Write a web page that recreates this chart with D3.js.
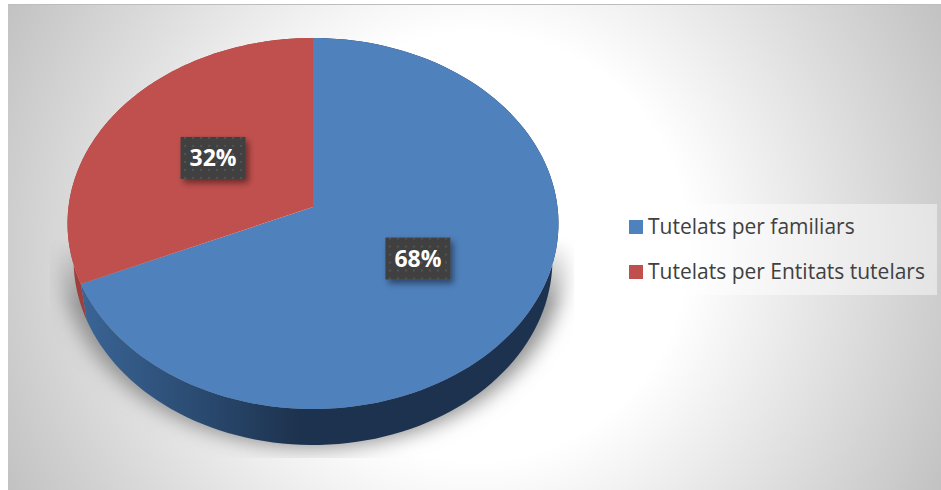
<!DOCTYPE html>
<html>
<head>
<meta charset="utf-8">
<script src="https://cdn.jsdelivr.net/npm/d3@7"></script>
<style>
  html, body { margin: 0; padding: 0; background: #fff; overflow: hidden; }
  svg { display: block; }
</style>
</head>
<body>
<svg id="chart" width="941" height="490"></svg>
<script>
// values (labels round them to 68% / 32%)
const categories = ["Tutelats per familiars", "Tutelats per Entitats tutelars"];
const shares = [68.4, 31.6];
const topColors = ["#4f81bd", "#c0504d"];

const svg = d3.select("#chart");
const width = 941, height = 490;
const defs = svg.append("defs");

// panel background: white in the middle, grey corners
const bg = defs.append("radialGradient").attr("id", "panelBg")
  .attr("gradientUnits", "userSpaceOnUse")
  .attr("cx", 474).attr("cy", 247).attr("r", 535);
bg.append("stop").attr("offset", 0.4).attr("stop-color", "#ffffff");
bg.append("stop").attr("offset", 1).attr("stop-color", "#c0c0c0");

// side wall of the blue slice, dark towards the front
const wallBlue = defs.append("linearGradient").attr("id", "wallBlue")
  .attr("gradientUnits", "userSpaceOnUse")
  .attr("x1", 80).attr("x2", 300).attr("y1", 0).attr("y2", 0);
wallBlue.append("stop").attr("offset", 0).attr("stop-color", "#3a6596");
wallBlue.append("stop").attr("offset", 0.55).attr("stop-color", "#2a4a70");
wallBlue.append("stop").attr("offset", 1).attr("stop-color", "#1d324e");

defs.append("filter").attr("id", "pieShadow")
  .attr("x", "-20%").attr("y", "-20%").attr("width", "140%").attr("height", "140%")
  .append("feGaussianBlur").attr("stdDeviation", 10);

const labelShadow = defs.append("filter").attr("id", "labelShadow")
  .attr("x", "-30%").attr("y", "-30%").attr("width", "160%").attr("height", "170%");
labelShadow.append("feDropShadow")
  .attr("dx", 3).attr("dy", 4).attr("stdDeviation", 3)
  .attr("flood-color", "#000").attr("flood-opacity", 0.45);

const dots = defs.append("pattern").attr("id", "labelDots")
  .attr("patternUnits", "userSpaceOnUse").attr("width", 8).attr("height", 8);
dots.append("rect").attr("width", 8).attr("height", 8).attr("fill", "#404040");
dots.append("circle").attr("cx", 4).attr("cy", 4).attr("r", 1.2).attr("fill", "#525252");

const fade = defs.append("linearGradient").attr("id", "shadowFade")
  .attr("x1", 0).attr("x2", 0).attr("y1", 0).attr("y2", 1);
fade.append("stop").attr("offset", 0).attr("stop-color", "#000");
fade.append("stop").attr("offset", 0.3).attr("stop-color", "#fff");
defs.append("mask").attr("id", "shadowMask")
  .attr("maskUnits", "userSpaceOnUse")
  .attr("x", 50).attr("y", 238).attr("width", 524).attr("height", 220)
  .append("rect").attr("x", 50).attr("y", 238).attr("width", 524).attr("height", 220)
  .attr("fill", "url(#shadowFade)");

// perspective projection of the pie disc onto the page
const apex = {x: 313, y: 207};
const rimTop = 38, rimBottom = 409;
const tilt = (2 * apex.y - rimTop - rimBottom) / (rimBottom - rimTop);
const rise = (rimBottom * (1 + tilt)) - apex.y;

function project(angle, frac, halfWidth, drop) {
  const u = Math.sin(angle) * frac, v = -Math.cos(angle) * frac;
  const d = 1 + tilt * v;
  return [apex.x + halfWidth * u / d, (rise * v + apex.y) / d + drop];
}

const topDisc = (a, f = 1) => project(a, f, 244.5, 0);
const baseDisc = a => project(a, 1, 238.5, 36);

const color = d3.scaleOrdinal().domain(categories).range(topColors);
const pie = d3.pie().sort(null).value(d => d.share);
const slices = pie(categories.map((name, i) => ({name, share: shares[i]})));
const line = d3.line();
const arcSteps = (s, e) => d3.range(0, 121).map(i => s + (e - s) * i / 120);

// background
svg.append("rect").attr("x", 8).attr("y", 4).attr("width", width - 8).attr("height", height - 4)
  .attr("fill", "url(#panelBg)");
svg.append("line").attr("x1", 8).attr("x2", width).attr("y1", 4.5).attr("y2", 4.5)
  .attr("stroke", "#bdbdbd");

// soft shadow under the disc, cut off by its box like in the original
const shadowPts = arcSteps(0, 2 * Math.PI).map(a => project(a, 1, 250, 38));
svg.append("g").attr("mask", "url(#shadowMask)")
  .append("path").attr("d", line(shadowPts) + "Z")
  .attr("fill", "#8f8f8f").attr("filter", "url(#pieShadow)");

// side walls
svg.append("g").selectAll("path").data(slices).join("path")
  .attr("d", d => {
    const steps = arcSteps(d.startAngle, d.endAngle);
    const upper = steps.map(a => topDisc(a));
    const lower = steps.slice().reverse().map(a => baseDisc(a));
    return line(upper.concat(lower)) + "Z";
  })
  .attr("fill", (d, i) => i === 0 ? "url(#wallBlue)" : "#9c3f3d");

// top faces
svg.append("g").selectAll("path").data(slices).join("path")
  .attr("d", d => line([[apex.x, apex.y]].concat(arcSteps(d.startAngle, d.endAngle).map(a => topDisc(a)))) + "Z")
  .attr("fill", d => color(d.data.name));

// data labels
const labels = svg.append("g").selectAll("g").data(slices).join("g")
  .attr("transform", d => `translate(${topDisc((d.startAngle + d.endAngle) / 2, 0.5)})`);
labels.append("rect")
  .attr("x", -32.5).attr("y", -21).attr("width", 65).attr("height", 42)
  .attr("fill", "url(#labelDots)").attr("filter", "url(#labelShadow)");
labels.append("text")
  .attr("text-anchor", "middle").attr("y", 8.5)
  .attr("font-family", "'Open Sans', sans-serif").attr("font-weight", 700).attr("font-size", 23)
  .attr("fill", "#fff")
  .text(d => Math.round(d.data.share) + "%");

// legend
const legendRow = d3.scalePoint().domain(categories).range([227, 272]);
svg.append("rect").attr("x", 616).attr("y", 204).attr("width", 321).attr("height", 91)
  .attr("fill", "#fff").attr("fill-opacity", 0.45);
const legend = svg.append("g").selectAll("g").data(categories).join("g")
  .attr("transform", d => `translate(629,${legendRow(d)})`);
legend.append("rect").attr("y", -7).attr("width", 14).attr("height", 14)
  .attr("fill", d => color(d));
legend.append("text").attr("x", 19).attr("y", 7)
  .attr("font-family", "'Open Sans', sans-serif").attr("font-size", 21)
  .attr("fill", "#404040").text(d => d);
</script>
</body>
</html>
